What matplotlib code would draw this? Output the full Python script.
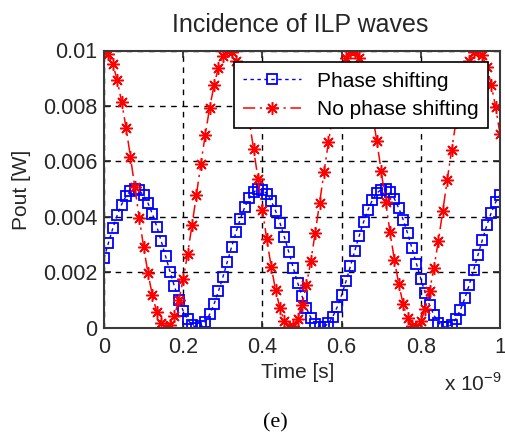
import numpy as np
import matplotlib
matplotlib.use("Agg")
import matplotlib.pyplot as plt
from matplotlib.ticker import FuncFormatter

plt.rcParams['font.family'] = ['Liberation Sans', 'DejaVu Sans']

# time axis: 91 samples over 1 ns
time_s = np.linspace(0, 1e-9, 91)

# output power [W]
pout_shift = [
    0.00250, 0.00305, 0.00358, 0.00405, 0.00444, 0.00474, 0.00493, 0.00500, 0.00495, 0.00477,
    0.00449, 0.00410, 0.00364, 0.00312, 0.00257, 0.00202, 0.00149, 0.00101, 0.00060, 0.00029,
    0.00009, 0.00000, 0.00004, 0.00020, 0.00047, 0.00084, 0.00130, 0.00181, 0.00236, 0.00291,
    0.00344, 0.00393, 0.00435, 0.00467, 0.00489, 0.00499, 0.00497, 0.00483, 0.00457, 0.00421,
    0.00377, 0.00326, 0.00272, 0.00216, 0.00162, 0.00113, 0.00070, 0.00036, 0.00013, 0.00001,
    0.00002, 0.00015, 0.00039, 0.00074, 0.00117, 0.00167, 0.00221, 0.00277, 0.00331, 0.00381,
    0.00425, 0.00460, 0.00485, 0.00498, 0.00499, 0.00488, 0.00465, 0.00431, 0.00389, 0.00340,
    0.00286, 0.00231, 0.00176, 0.00125, 0.00080, 0.00044, 0.00018, 0.00003, 0.00001, 0.00010,
    0.00032, 0.00064, 0.00105, 0.00154, 0.00207, 0.00262, 0.00317, 0.00369, 0.00414, 0.00452,
    0.00479,
]
pout_noshift = [
    0.01000, 0.00988, 0.00951, 0.00893, 0.00815, 0.00722, 0.00617, 0.00507, 0.00397, 0.00291,
    0.00196, 0.00116, 0.00055, 0.00016, 0.00000, 0.00009, 0.00043, 0.00098, 0.00174, 0.00266,
    0.00369, 0.00478, 0.00589, 0.00695, 0.00792, 0.00874, 0.00938, 0.00981, 0.00999, 0.00993,
    0.00963, 0.00910, 0.00837, 0.00747, 0.00645, 0.00536, 0.00425, 0.00318, 0.00220, 0.00135,
    0.00069, 0.00024, 0.00002, 0.00005, 0.00032, 0.00082, 0.00153, 0.00240, 0.00341, 0.00450,
    0.00561, 0.00668, 0.00768, 0.00855, 0.00924, 0.00972, 0.00997, 0.00997, 0.00973, 0.00926,
    0.00858, 0.00772, 0.00673, 0.00565, 0.00454, 0.00345, 0.00244, 0.00156, 0.00084, 0.00033,
    0.00005, 0.00002, 0.00022, 0.00067, 0.00133, 0.00216, 0.00314, 0.00421, 0.00532, 0.00641,
    0.00743, 0.00834, 0.00908, 0.00961, 0.00993, 0.00999, 0.00982, 0.00940, 0.00877, 0.00796,
    0.00699,
]

xticks = [0, 0.2e-9, 0.4e-9, 0.6e-9, 0.8e-9, 1e-9]
yticks = [0, 0.002, 0.004, 0.006, 0.008, 0.01]

fig = plt.figure(figsize=(5.06, 4.32), dpi=100)
ax = fig.add_axes([104 / 506, 1 - 327.5 / 432, 396 / 506, 277 / 432])

ax.plot(time_s, pout_shift, color='#0000ff', linestyle=(0, (2.5, 2.5)), linewidth=1.0,
        marker='s', markersize=7.5, markerfacecolor='none', markeredgewidth=1.3,
        label='Phase shifting')
ax.plot(time_s, pout_noshift, color='#ff0000', linestyle=(0, (8, 3, 1.5, 3)), linewidth=1.1,
        marker=(8, 2, 0), markersize=9, markeredgewidth=1.1,
        label='No phase shifting')

ax.set_xlim(0, 1e-9)
ax.set_ylim(0, 0.01)
ax.set_xticks(xticks)
ax.set_yticks(yticks)
ax.xaxis.set_major_formatter(FuncFormatter(lambda v, p: f"{v * 1e9:g}"))
ax.yaxis.set_major_formatter(FuncFormatter(lambda v, p: f"{v:g}"))
ax.tick_params(direction='in', length=5, width=1.2, top=True, right=True,
               labelsize=15.5, colors='#262626')
ax.tick_params(axis='x', pad=7)
ax.tick_params(axis='y', pad=5)
for s in ax.spines.values():
    s.set_linewidth(1.5)
    s.set_color('#3a3a3a')

ax.grid(True, color='black', linestyle=(0, (4, 4)), linewidth=1.0)

leg = ax.legend(loc='upper right', bbox_to_anchor=(0.97, 0.958), borderaxespad=0,
                fontsize=15, handlelength=2.8, handletextpad=0.75, borderpad=0.45,
                labelspacing=0.45, numpoints=1, fancybox=False, framealpha=1)
leg.get_frame().set_edgecolor('black')
leg.get_frame().set_linewidth(1.2)

fig.text(300 / 506, 1 - 25 / 432, 'Incidence of ILP waves', ha='center', va='center',
         fontsize=18, color='#262626')
fig.text(298 / 506, 1 - 373 / 432, 'Time [s]', ha='center', va='center',
         fontsize=15, color='#262626')
fig.text(22 / 506, 1 - 190 / 432, 'Pout [W]', ha='center', va='center', rotation=90,
         fontsize=15, color='#262626')
fig.text(473 / 506, 1 - 384 / 432, r'x 10$^{\mathregular{-9}}$', ha='center', va='center',
         fontsize=15, color='#262626')
fig.text(275 / 506, 1 - 423 / 432, '(e)', ha='center', va='center',
         fontsize=16, family='Liberation Serif', color='black')

fig.savefig("out.png", dpi=100)
